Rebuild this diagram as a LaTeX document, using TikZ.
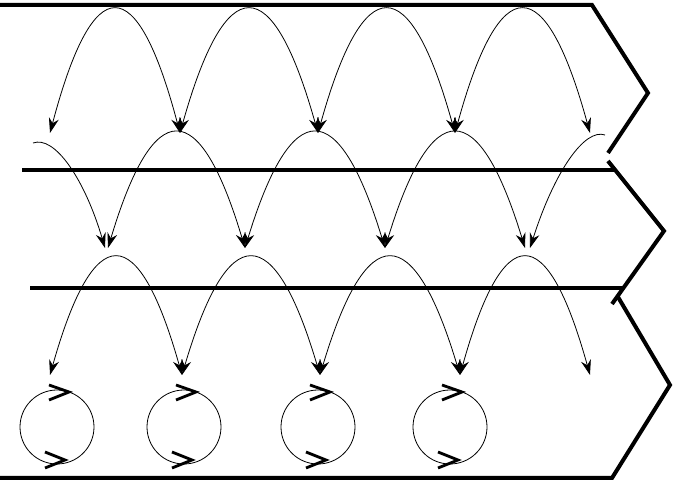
\documentclass[tikz,border=0pt]{standalone}
\usetikzlibrary{arrows.meta,positioning}

\begin{document}
\begin{tikzpicture}[
    x=0.5pt, y=-0.5pt,
    wall/.style={line width=2pt, line join=miter},
    hop/.style={thin, {Stealth[length=7.5pt,width=5pt]}-{Stealth[length=7.5pt,width=5pt]}},
    half/.style={thin, -{Stealth[length=7.5pt,width=5pt]}},
    loop/.style={draw, thin, circle, minimum size=37pt, inner sep=0pt},
    tick/.style={line width=1.4pt}
]
\useasboundingbox (0,0) rectangle (676,480);

% Walls
\draw[wall] (0,5) -- (592,5) -- (648,93) -- (608,153);
\draw[wall] (22,170) -- (614,170);
\draw[wall] (608,161) -- (664,231) -- (612,304);
\draw[wall] (30,288) -- (622,288);
\draw[wall] (618,297) -- (670,385) -- (612,478) -- (0,478);

% Top row of hops
\foreach \a/\b in {50/180, 180/318, 318/455, 455/590}
  \draw[hop] (\a,133) .. controls ({\a+(\b-\a)/3},-31) and ({\a+2*(\b-\a)/3},-31) .. (\b,133);

% Middle row of hops
\foreach \a/\b in {108/245, 245/385, 385/525}
  \draw[hop] (\a,248) .. controls ({\a+(\b-\a)/3},95) and ({\a+2*(\b-\a)/3},95) .. (\b,248);
\coordinate (lstart) at (33,143);
\coordinate (lend) at (105,248);
\draw[half] (lstart) .. controls (55,135) and (85,180) .. (lend);
\coordinate (rstart) at (605,135);
\coordinate (rend) at (530,248);
\draw[half] (rstart) .. controls (585,128) and (555,170) .. (rend);

% Bottom row of hops
\foreach \a/\b in {50/182, 182/320, 320/460, 460/590}
  \draw[hop] (\a,375) .. controls ({\a+(\b-\a)/3},219) and ({\a+2*(\b-\a)/3},219) .. (\b,375);

% Loops
\foreach \x [count=\i] in {57, 184, 318, 450} {
  \node[loop] (loop\i) at (\x,427) {};
  \draw[tick] ([shift={(-8,-42)}]loop\i.center) -- ([shift={(12,-35)}]loop\i.center) -- ([shift={(-8,-27)}]loop\i.center);
  \draw[tick] ([shift={(-12,25)}]loop\i.center) -- ([shift={(8,33)}]loop\i.center) -- ([shift={(-12,41)}]loop\i.center);
}

\end{tikzpicture}
\end{document}
